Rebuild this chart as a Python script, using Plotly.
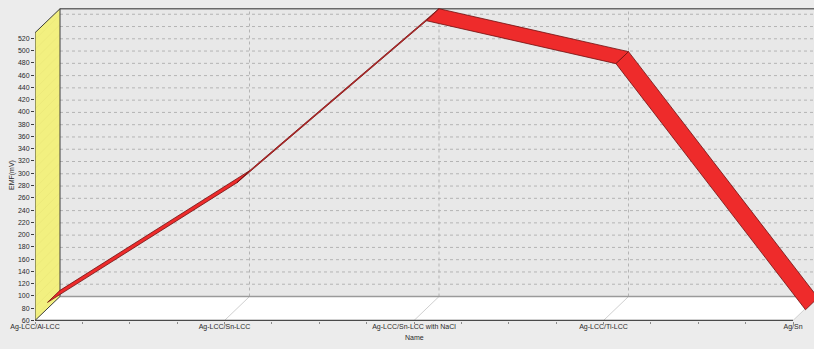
import plotly.graph_objects as go

# ---------------- data ----------------
categories = ["Ag-LCC/Al-LCC", "Ag-LCC/Sn-LCC", "Ag-LCC/Sn-LCC with NaCl",
              "Ag-LCC/Ti-LCC", "Ag/Sn"]
emf = [70, 265, 529, 459, 58]
y_ticks = list(range(60, 521, 20))
y_title = "EMF(mV)"
x_title = "Name"

# ---------------- geometry (pseudo 3D) ----------------
W, H = 814, 349
ML, MB = 35, 28
PX_PER_UNIT = 0.6136
PX_PER_CAT = 189.5
DX = 25 / PX_PER_CAT          # depth offset in category units
DY = 24 / PX_PER_UNIT         # depth offset in value units
F_FRONT = 0.5                 # ribbon front edge depth fraction
Y0 = 60
YMAX = max(emf)
n = len(categories)

plot_w = W - ML
plot_h = H - MB
xr = [0, plot_w / PX_PER_CAT]
ybot = Y0 - 0.5 / PX_PER_UNIT
yr = [ybot, ybot + plot_h / PX_PER_UNIT]
XR = xr[1] + 1

shapes = []
# back wall
shapes.append(dict(type="rect", xref="x", yref="y", x0=DX, x1=XR, y0=Y0 + DY, y1=YMAX + DY,
                   fillcolor="#e8e8e8", line=dict(width=0), layer="below"))
# horizontal dashed grid
for v in y_ticks[1:]:
    shapes.append(dict(type="line", xref="x", yref="y", x0=DX, x1=XR, y0=v + DY, y1=v + DY,
                       line=dict(color="#b4b4b4", width=1, dash="dot"), layer="below"))
# vertical dashed grid
for i in range(1, n):
    shapes.append(dict(type="line", xref="x", yref="y", x0=i + DX, x1=i + DX, y0=Y0 + DY, y1=YMAX + DY,
                       line=dict(color="#b4b4b4", width=1, dash="dot"), layer="below"))
# floor
shapes.append(dict(type="path", xref="x", yref="y",
                   path=f"M 0,{Y0} L {n-1},{Y0} L {n-1+DX},{Y0+DY} L {DX},{Y0+DY} Z",
                   fillcolor="#ffffff", line=dict(width=0), layer="below"))
for i in range(1, n):
    shapes.append(dict(type="line", xref="x", yref="y", x0=i, x1=i + DX, y0=Y0, y1=Y0 + DY,
                       line=dict(color="#cfcfcf", width=1), layer="below"))
# back wall bottom / top lines
shapes.append(dict(type="line", xref="x", yref="y", x0=DX, x1=XR, y0=Y0 + DY, y1=Y0 + DY,
                   line=dict(color="#9a9a9a", width=1.5), layer="below"))
shapes.append(dict(type="line", xref="x", yref="y", x0=DX, x1=XR, y0=YMAX + DY, y1=YMAX + DY,
                   line=dict(color="#6a6a6a", width=1.5), layer="below"))
# front bottom axis line
shapes.append(dict(type="line", xref="x", yref="y", x0=0, x1=n - 1, y0=Y0, y1=Y0,
                   line=dict(color="#4a4a4a", width=1.5), layer="below"))

fig = go.Figure()

# left (yellow) wall
fig.add_trace(go.Scatter(
    x=[0, DX, DX, 0, 0], y=[Y0, Y0 + DY, YMAX + DY, YMAX, Y0],
    mode="lines", fill="toself", fillcolor="#f2f080",
    fillpattern=dict(shape="/", fgcolor="#dcd86a", bgcolor="#f2f080", size=7, solidity=0.08),
    line=dict(width=0), hoverinfo="skip", showlegend=False))
# wall borders
fig.add_trace(go.Scatter(
    x=[0, 0, DX, DX, None, 0, DX],
    y=[Y0, YMAX, YMAX + DY, Y0 + DY, None, Y0, Y0 + DY],
    mode="lines", line=dict(color="#3c3c3c", width=1), hoverinfo="skip", showlegend=False))

# ribbon segments
xf = [i + F_FRONT * DX for i in range(n)]
yf = [v + F_FRONT * DY for v in emf]
xb = [i + DX for i in range(n)]
yb = [v + DY for v in emf]
for i in range(n - 1):
    fig.add_trace(go.Scatter(
        x=[xf[i], xf[i + 1], xb[i + 1], xb[i], xf[i]],
        y=[yf[i], yf[i + 1], yb[i + 1], yb[i], yf[i]],
        mode="lines", fill="toself", fillcolor="#ee2b2b",
        line=dict(color="#701010", width=0.8), hoverinfo="skip", showlegend=False))

font = dict(family="Liberation Sans, Arial, sans-serif", size=7, color="#2a2a2a")

fig.update_layout(
    width=W, height=H,
    margin=dict(l=ML, r=0, t=0, b=MB, pad=0),
    paper_bgcolor="#ececec", plot_bgcolor="#ececec",
    font=font, showlegend=False,
    shapes=shapes,
    xaxis=dict(range=xr, tickmode="array", tickvals=list(range(n)), ticktext=categories,
               showgrid=False, zeroline=False, showline=False, ticks="",
               minor=dict(tickmode="linear", tick0=0, dtick=0.25, ticks="outside",
                          ticklen=2, tickcolor="#8a8a8a", showgrid=False),
               tickfont=font, fixedrange=True),
    yaxis=dict(range=yr, tickmode="array", tickvals=y_ticks,
               showgrid=False, zeroline=False, showline=False,
               ticks="outside", ticklen=3, tickcolor="#3c3c3c", tickfont=font, fixedrange=True),
    annotations=[
        dict(text=y_title, xref="paper", yref="paper", x=(12 - ML) / plot_w, y=(plot_h - 175) / plot_h,
             textangle=-90, showarrow=False, font=font, xanchor="center", yanchor="middle"),
        dict(text=x_title, xref="x", yref="paper", x=2, y=(plot_h - 337) / plot_h,
             showarrow=False, font=font, xanchor="center", yanchor="middle"),
    ],
)

fig.write_html("out.html")
